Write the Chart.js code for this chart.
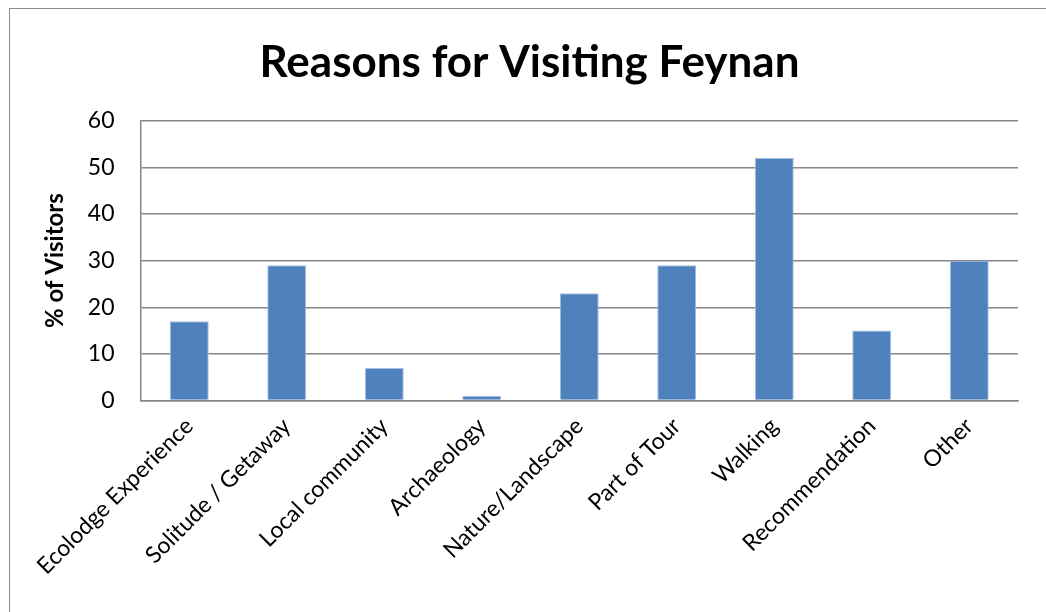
<!DOCTYPE html>
<html>
<head>
<meta charset="utf-8">
<script src="https://cdn.jsdelivr.net/npm/chart.js@4/dist/chart.umd.min.js"></script>
<style>
  html, body { margin: 0; padding: 0; background: #fff; overflow: hidden; }
  #frame { position: absolute; left: 9px; top: 8px; width: 1100px; height: 700px; border: 1.5px solid #8c8c8c; }
  #wrap { position: absolute; left: 0; top: 0; width: 1046px; height: 612px; }
</style>
</head>
<body>
<div id="frame"></div>
<div id="wrap"><canvas id="visit-chart"></canvas></div>
<script>
// survey results: share of visitors giving each reason
const reasons = ['Ecolodge Experience', 'Solitude / Getaway', 'Local community', 'Archaeology',
  'Nature/Landscape', 'Part of Tour', 'Walking', 'Recommendation', 'Other'];
const visitorPct = [17, 29, 7, 1, 23, 29, 52, 15, 30];
const yTicks = [0, 10, 20, 30, 40, 50, 60];

const FONT = 'Lato, Carlito, Calibri, sans-serif';
const gridGray = '#868686';

new Chart(document.getElementById('visit-chart'), {
  type: 'bar',
  data: {
    labels: reasons,
    datasets: [{
      label: '% of Visitors',
      data: visitorPct,
      backgroundColor: '#4f81bd',
      borderColor: '#a7c0e0',
      borderWidth: 1,
      barPercentage: 0.4,
      categoryPercentage: 1
    }]
  },
  options: {
    responsive: true, maintainAspectRatio: false,
    animation: false,
    layout: { padding: { left: 41, right: 28, top: 16, bottom: 20 } },
    plugins: {
      legend: { display: false },
      tooltip: { enabled: false },
      title: {
        display: true,
        text: 'Reasons for Visiting Feynan',
        color: '#000',
        font: { family: FONT, size: 44, weight: 'bold' },
        padding: { top: 20, bottom: 32 }
      }
    },
    scales: {
      x: {
        grid: { display: false, drawTicks: false },
        border: { display: true, color: gridGray, width: 1.5 },
        ticks: {
          color: '#000', font: { family: FONT, size: 23 },
          minRotation: 45, maxRotation: 45, padding: 12
        }
      },
      y: {
        min: 0, max: 60,
        afterBuildTicks: axis => { axis.ticks = yTicks.map(v => ({ value: v })); },
        grid: { color: gridGray, lineWidth: 1.5, drawTicks: false },
        border: { display: true, color: gridGray, width: 1.5 },
        ticks: { color: '#000', font: { family: FONT, size: 23 }, padding: 26 },
        title: {
          display: true, text: '% of Visitors', color: '#000',
          font: { family: FONT, size: 24, weight: 'bold' }, padding: { top: 0, bottom: -8 }
        }
      }
    }
  }
});
</script>
</body>
</html>
